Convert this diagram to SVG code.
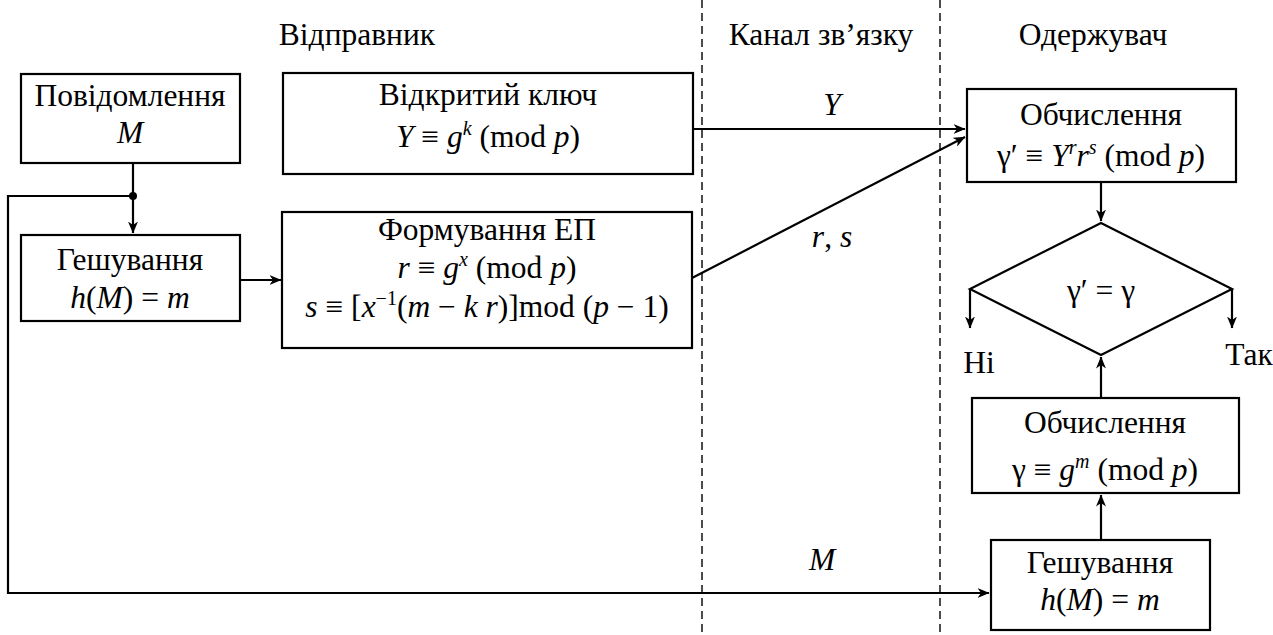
<svg xmlns="http://www.w3.org/2000/svg" width="1273" height="635" viewBox="0 0 1273 635" font-family="Liberation Serif" font-size="31.5">
<style>
text{fill:#000;text-anchor:middle}
.i{font-style:italic}
.sup{font-size:20px;font-style:italic}
rect,polygon{fill:#fff;stroke:#000;stroke-width:2.2}
.c{fill:none;stroke:#000;stroke-width:2.2}
.d{fill:none;stroke:#000;stroke-width:1.4;stroke-dasharray:8,5}
</style>
<defs>
<marker id="ah" viewBox="0 0 12 10" refX="11.5" refY="5" markerWidth="12" markerHeight="10" markerUnits="userSpaceOnUse" orient="auto">
<path d="M0,0 L12,5 L0,10 L3.5,5 z" fill="#000"/>
</marker>
</defs>
<g id="headers">
<text font-family="Liberation Serif" x="357" y="45">Відправник</text>
<text font-family="Liberation Serif" x="821" y="45">Канал зв’язку</text>
<text font-family="Liberation Serif" x="1093" y="45">Одержувач</text>
</g>
<g id="dividers">
<line class="d" x1="702" y1="0" x2="702" y2="635"/>
<line class="d" x1="940" y1="0" x2="940" y2="635"/>
</g>
<g id="connectors" font-family="Liberation Serif">
<path class="c" d="M133,163 V233" marker-end="url(#ah)"/>
<circle cx="133" cy="196" r="4" fill="#000"/>
<path class="c" d="M133,196 H8 V593 H989" marker-end="url(#ah)"/>
<path class="c" d="M240,280 H281" marker-end="url(#ah)"/>
<path class="c" d="M693,129 H965" marker-end="url(#ah)"/>
<path class="c" d="M692,278 L965,137" marker-end="url(#ah)"/>
<path class="c" d="M1101,182 V221" marker-end="url(#ah)"/>
<path class="c" d="M970,289 V328" marker-end="url(#ah)"/>
<path class="c" d="M1232,289 V328" marker-end="url(#ah)"/>
<path class="c" d="M1101,398 V357" marker-end="url(#ah)"/>
<path class="c" d="M1101,540 V495" marker-end="url(#ah)"/>
<text class="i" x="832" y="115">Y</text>
<text x="832" y="247"><tspan class="i">r</tspan>, <tspan class="i">s</tspan></text>
<text class="i" x="822" y="570">M</text>
</g>
<g id="msg" font-family="Liberation Serif">
<rect x="21" y="74" width="219" height="89"/>
<text x="130" y="106">Повідомлення</text>
<text class="i" x="130" y="143">M</text>
</g>
<g id="hash1" font-family="Liberation Serif">
<rect x="21" y="235" width="219" height="86"/>
<text x="130" y="270">Гешування</text>
<text x="130" y="308"><tspan class="i">h</tspan>(<tspan class="i">M</tspan>) = <tspan class="i">m</tspan></text>
</g>
<g id="pubkey" font-family="Liberation Serif">
<rect x="283" y="73" width="410" height="101"/>
<text x="488" y="105">Відкритий ключ</text>
<text x="488" y="147"><tspan class="i">Y</tspan> ≡ <tspan class="i">g</tspan><tspan class="sup" dy="-12">k</tspan><tspan dy="12"> (mod </tspan><tspan class="i">p</tspan>)</text>
</g>
<g id="sign" font-family="Liberation Serif">
<rect x="282" y="212" width="410" height="136"/>
<text x="487" y="240">Формування ЕП</text>
<text x="487" y="278"><tspan class="i">r</tspan> ≡ <tspan class="i">g</tspan><tspan class="sup" dy="-12">x</tspan><tspan dy="12"> (mod </tspan><tspan class="i">p</tspan>)</text>
<text x="487" y="317"><tspan class="i">s</tspan> ≡ [<tspan class="i">x</tspan><tspan class="sup" style="font-style:normal" dy="-12">−1</tspan><tspan dy="12">(</tspan><tspan class="i">m</tspan> − <tspan class="i">k r</tspan>)]mod (<tspan class="i">p</tspan> − 1)</text>
</g>
<g id="calc1" font-family="Liberation Serif">
<rect x="967" y="89" width="269" height="93"/>
<text x="1101" y="125">Обчислення</text>
<text x="1101" y="166">γ′ ≡ <tspan class="i">Y</tspan><tspan class="sup" dy="-12">r</tspan><tspan class="i" dy="12">r</tspan><tspan class="sup" dy="-12">s</tspan><tspan dy="12"> (mod </tspan><tspan class="i">p</tspan>)</text>
</g>
<g id="check" font-family="Liberation Serif">
<polygon points="1101,223 1232,289 1101,355 970,289"/>
<text x="1101" y="301">γ′ = γ</text>
</g>
<g id="labels" font-family="Liberation Serif">
<text x="979" y="373">Ні</text>
<text x="1249" y="365">Так</text>
</g>
<g id="calc2" font-family="Liberation Serif">
<rect x="972" y="398" width="267" height="95"/>
<text x="1105" y="433">Обчислення</text>
<text x="1105" y="480">γ ≡ <tspan class="i">g</tspan><tspan class="sup" dy="-12">m</tspan><tspan dy="12"> (mod </tspan><tspan class="i">p</tspan>)</text>
</g>
<g id="hash2" font-family="Liberation Serif">
<rect x="991" y="540" width="219" height="90"/>
<text x="1100" y="573">Гешування</text>
<text x="1100" y="610"><tspan class="i">h</tspan>(<tspan class="i">M</tspan>) = <tspan class="i">m</tspan></text>
</g>
</svg>
